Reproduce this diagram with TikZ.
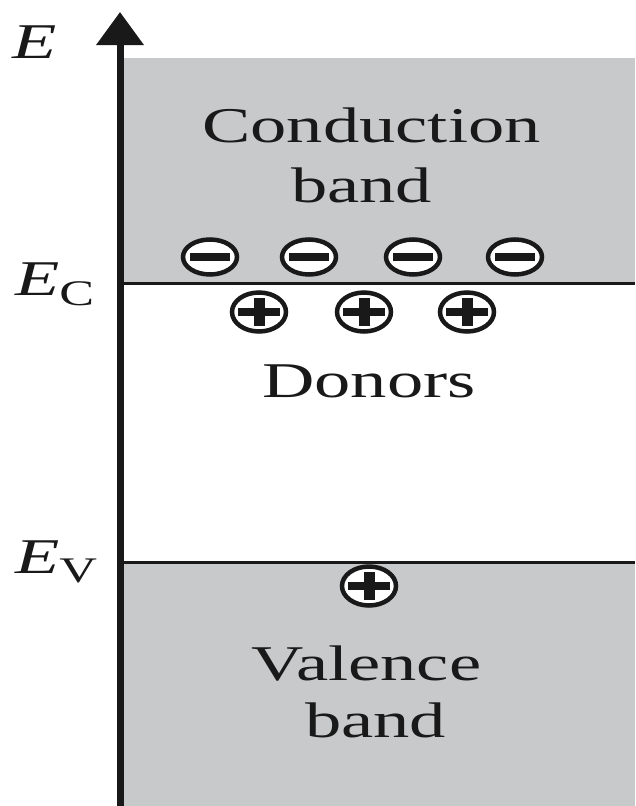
\documentclass[tikz,border=0pt]{standalone}
\usepackage{fontspec}
\setmainfont{Liberation Serif}
\usetikzlibrary{arrows.meta,shapes.geometric}
\definecolor{bandgray}{RGB}{200,201,203}
\definecolor{ink}{RGB}{25,25,25}
\newcommand{\stretchtxt}[2]{\scalebox{1.45}[1]{\fontsize{#1}{#1}\selectfont #2}}
\tikzset{
  bandtext/.style={inner sep=0pt, anchor=base, text=ink, font=\fontsize{50}{60}\selectfont},
  levellabel/.style={inner sep=0pt, anchor=base west, text=ink},
  levelline/.style={draw=ink, line width=3pt},
  charge/.style={shape=ellipse, draw=ink, fill=white, line width=4.5pt, inner sep=0pt, minimum width=54pt},
  negcharge/.style={charge, minimum height=35pt,
    path picture={\fill[ink] ([xshift=-20pt,yshift=-4pt]path picture bounding box.center) rectangle ([xshift=20pt,yshift=4pt]path picture bounding box.center);}},
  poscharge/.style={charge, minimum height=39pt,
    path picture={\fill[ink] ([xshift=-21pt,yshift=-4pt]path picture bounding box.center) rectangle ([xshift=21pt,yshift=4pt]path picture bounding box.center);
                  \fill[ink] ([xshift=-5.5pt,yshift=-14pt]path picture bounding box.center) rectangle ([xshift=5.5pt,yshift=14pt]path picture bounding box.center);}}
}
\begin{document}
\begin{tikzpicture}[x=1pt,y=-1pt]
\useasboundingbox (0,0) rectangle (635,806);
\fill[white] (0,0) rectangle (635,806);
% bands
\fill[bandgray] (124,58) rectangle (635,283.5);
\fill[bandgray] (124,562) rectangle (635,806);
% level lines
\coordinate (ecL) at (124,283.5);
\coordinate (ecR) at (635,283.5);
\coordinate (evL) at (124,562);
\coordinate (evR) at (635,562);
\draw[levelline] (ecL) -- (ecR);
\draw[levelline] (evL) -- (evR);
% axis
\coordinate (axbot) at (120,806);
\coordinate (axtop) at (120,12);
\draw[draw=ink, line width=7pt, -{Triangle[length=33pt,width=46pt,fill=ink]}] (axbot) -- (axtop);
% labels
\node[levellabel] (E) at (12,58) {\stretchtxt{50}{\itshape E}};
\node[levellabel] (EC) at (15,295) {\stretchtxt{50}{\itshape E}\raisebox{-10pt}{\stretchtxt{36}{C}}};
\node[levellabel] (EV) at (15,573) {\stretchtxt{50}{\itshape E}\raisebox{-9pt}{\stretchtxt{36}{V}}};
% band texts
\node[bandtext] (cond) at (371.5,142) {\scalebox{1.45}[1]{Conduction}};
\node[bandtext] (cband) at (361.5,202) {\scalebox{1.45}[1]{band}};
\node[bandtext] (don) at (369,397) {\scalebox{1.45}[1]{Donors}};
\node[bandtext] (val) at (366.5,680) {\scalebox{1.45}[1]{Valence}};
\node[bandtext] (vband) at (375.5,737) {\scalebox{1.45}[1]{band}};
% charges
\node[negcharge] (n1) at (210,257) {};
\node[negcharge] (n2) at (309,257) {};
\node[negcharge] (n3) at (413,257) {};
\node[negcharge] (n4) at (515,257) {};
\node[poscharge] (p1) at (259,312) {};
\node[poscharge] (p2) at (364,312) {};
\node[poscharge] (p3) at (467,312) {};
\node[poscharge] (p4) at (369,586) {};
\end{tikzpicture}
\end{document}
